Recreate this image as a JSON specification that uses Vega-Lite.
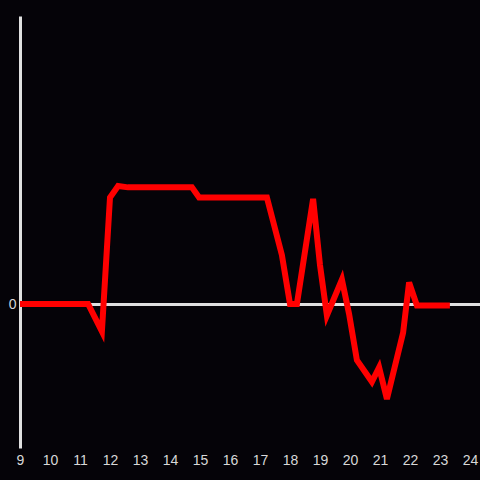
{
  "$schema": "https://vega.github.io/schema/vega-lite/v6.json",
  "autosize": "none",
  "width": 460,
  "height": 432,
  "padding": {"left": 20, "top": 16, "right": 0, "bottom": 32},
  "background": "#050308",
  "config": {"view": {"stroke": null}},
  "data": {"values": [
    {"h": 9.0, "v": 0},
    {"h": 11.27, "v": 0},
    {"h": 11.73, "v": -0.19},
    {"h": 12.0, "v": 0.74},
    {"h": 12.27, "v": 0.82},
    {"h": 12.6, "v": 0.81},
    {"h": 14.73, "v": 0.81},
    {"h": 14.97, "v": 0.74},
    {"h": 17.23, "v": 0.74},
    {"h": 17.73, "v": 0.34},
    {"h": 18.0, "v": 0},
    {"h": 18.23, "v": 0},
    {"h": 18.77, "v": 0.73},
    {"h": 19.0, "v": 0.27},
    {"h": 19.23, "v": -0.08},
    {"h": 19.73, "v": 0.17},
    {"h": 19.97, "v": -0.07},
    {"h": 20.23, "v": -0.39},
    {"h": 20.73, "v": -0.54},
    {"h": 20.97, "v": -0.44},
    {"h": 21.23, "v": -0.66},
    {"h": 21.77, "v": -0.2},
    {"h": 21.97, "v": 0.15},
    {"h": 22.23, "v": -0.01},
    {"h": 23.33, "v": -0.01}
  ]},
  "mark": {"type": "line", "color": "#ff0000", "strokeWidth": 6, "strokeJoin": "miter", "clip": false},
  "encoding": {
    "x": {
      "field": "h", "type": "quantitative",
      "scale": {"domain": [9, 24.3333], "nice": false, "zero": false},
      "axis": {
        "title": null, "values": [9,10,11,12,13,14,15,16,17,18,19,20,21,22,23,24],
        "domain": false, "ticks": false, "grid": false,
        "labelColor": "#d8d8d8", "labelFontSize": 14, "labelFont": "Liberation Sans",
        "labelPadding": 5, "labelFlush": false, "labelOverlap": false
      }
    },
    "y": {
      "field": "v", "type": "quantitative",
      "scale": {"domain": [-1, 2], "nice": false, "zero": false},
      "axis": {
        "title": null, "values": [0],
        "domain": true, "domainColor": "#e0e0e0", "domainWidth": 3,
        "ticks": false, "grid": true, "gridColor": "#e0e0e0", "gridWidth": 3,
        "labelColor": "#d8d8d8", "labelFontSize": 14, "labelFont": "Liberation Sans",
        "labelPadding": 4
      }
    }
  }
}
